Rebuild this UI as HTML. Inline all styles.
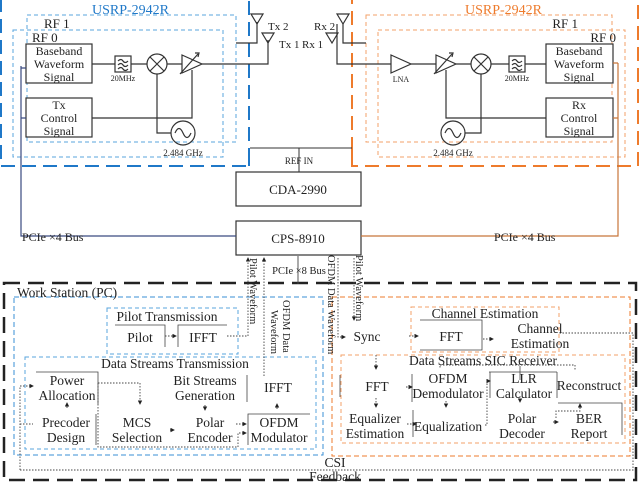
<!DOCTYPE html>
<html><head><meta charset="utf-8"><style>
html,body{margin:0;padding:0;background:#fff}
svg{display:block}
text{font-family:"Liberation Serif",serif;fill:#222}
</style></head><body>
<svg width="640" height="484" viewBox="0 0 640 484" xmlns="http://www.w3.org/2000/svg">
<defs>
<marker id="a" markerWidth="5" markerHeight="5" refX="4" refY="2.5" orient="auto"><path d="M0,0 L5,2.5 L0,5z" fill="#222"/></marker>
</defs>
<g fill="none">
<rect x="1" y="-3" width="248" height="169" stroke="#1f78c8" stroke-width="2" stroke-dasharray="14,7"/>
<rect x="352" y="-3" width="286" height="169" stroke="#ee7b2c" stroke-width="2" stroke-dasharray="14,7"/>
<rect x="27" y="15" width="209" height="127" stroke="#5aa5de" stroke-dasharray="4,3"/>
<rect x="13" y="30" width="210" height="127" stroke="#5aa5de" stroke-dasharray="4,3"/>
<rect x="366" y="15" width="246" height="127" stroke="#f3a26a" stroke-dasharray="4,3"/>
<rect x="378" y="30" width="247" height="127" stroke="#f3a26a" stroke-dasharray="4,3"/>
</g>
<g stroke="#333" fill="#fff" stroke-width="1.2">
<rect x="26" y="44" width="66" height="39"/>
<rect x="26" y="98" width="66" height="39"/>
<rect x="546" y="44" width="67" height="39"/>
<rect x="546" y="98" width="67" height="39"/>
</g>
<g stroke="#333" fill="none" stroke-width="1.2">
<path d="M92,64 H115 M131,64 H147 M167,64 H182 M202,64 H268 V40"/>
<rect x="115" y="56" width="16" height="16"/>
<path d="M118,61 q3,-3 5,0 t5,0 M118,65 q3,-3 5,0 t5,0 M118,69 q3,-3 5,0 t5,0"/>
<circle cx="157" cy="64" r="10"/><path d="M150,57 L164,71 M164,57 L150,71"/>
<path d="M182,55 L202,64 L182,73z"/><path d="M180,74 L198,54" /><path d="M195,53 l4,0 l-1,4"/>
<path d="M92,118 H192 V70"/>
<path d="M157,74 V133 H171"/>
<circle cx="183" cy="133" r="12"/><path d="M175,133 q4,-9 8,0 t8,0"/>
<path d="M236,43 H257 V22"/>
<path d="M251,14 L263,14 L257,24z"/><path d="M262,33 L274,33 L268,43z"/>
<path d="M337,24 V64 H391 M411,64 H436 M456,64 H471 M491,64 H509 M525,64 H546"/>
<path d="M343,24 V43 H366"/>
<path d="M326,33 L338,33 L332,43z"/><path d="M337,14 L349,14 L343,24z"/>
<path d="M391,55 L411,64 L391,73z"/>
<path d="M436,55 L456,64 L436,73z"/><path d="M434,74 L452,54"/><path d="M449,53 l4,0 l-1,4"/>
<circle cx="481" cy="64" r="10"/><path d="M474,57 L488,71 M488,57 L474,71"/>
<rect x="509" y="56" width="16" height="16"/>
<path d="M512,61 q3,-3 5,0 t5,0 M512,65 q3,-3 5,0 t5,0 M512,69 q3,-3 5,0 t5,0"/>
<path d="M546,118 H446 V70"/>
<path d="M481,74 V133 H465"/>
<circle cx="453" cy="133" r="12"/><path d="M445,133 q4,-9 8,0 t8,0"/>
<path d="M250,148 H352 M299,148 V172" stroke-width="1"/>
<rect x="236" y="172" width="125" height="34" fill="#fff"/>
<rect x="236" y="221" width="125" height="34" fill="#fff"/>
</g>
<path d="M613,63 H618 M613,118 H618 M618,63 V236 H361" stroke="#c8763a" fill="none" stroke-width="1.2"/>
<path d="M21,68 H26 M21,118 H26 M21,66 V236 H236" stroke="#3a4a80" fill="none" stroke-width="1.2"/>
<path d="M249,166 V150" stroke="#1f78c8" stroke-width="2"/>
<path d="M352,166 V150" stroke="#ee7b2c" stroke-width="2"/>
<g font-size="12">
<text x="92" y="14" style="fill:#1f78c8" font-size="14">USRP-2942R</text>
<text x="465" y="14" style="fill:#ee7b2c" font-size="14">USRP-2942R</text>
<text x="44" y="28" font-size="13">RF 1</text>
<text x="32" y="42" font-size="13">RF 0</text>
<text x="578" y="28" font-size="13" text-anchor="end">RF 1</text>
<text x="616" y="42" font-size="13" text-anchor="end">RF 0</text>
<g text-anchor="middle" font-size="12">
<text x="59" y="55">Baseband</text><text x="59" y="68">Waveform</text><text x="59" y="81">Signal</text>
<text x="59" y="109">Tx</text><text x="59" y="122">Control</text><text x="59" y="135">Signal</text>
<text x="579" y="55">Baseband</text><text x="579" y="68">Waveform</text><text x="579" y="81">Signal</text>
<text x="579" y="109">Rx</text><text x="579" y="122">Control</text><text x="579" y="135">Signal</text>
<text x="123" y="81" font-size="8">20MHz</text><text x="517" y="81" font-size="8">20MHz</text>
<text x="401" y="82" font-size="8">LNA</text>
<text x="183" y="156" font-size="9">2.484 GHz</text><text x="453" y="156" font-size="9">2.484 GHz</text>
<text x="299" y="164" font-size="9">REF IN</text>
<text x="298" y="194" font-size="13">CDA-2990</text>
<text x="298" y="243" font-size="13">CPS-8910</text>
</g>
<text x="268" y="30" font-size="11">Tx 2</text><text x="279" y="48" font-size="11">Tx 1</text>
<text x="302" y="48" font-size="11">Rx 1</text><text x="314" y="30" font-size="11">Rx 2</text>
<text x="22" y="241" font-size="12">PCIe ×4 Bus</text>
<text x="494" y="241" font-size="12">PCIe ×4 Bus</text>
</g>
<rect x="4" y="283" width="632" height="197" fill="none" stroke="#222" stroke-width="2.5" stroke-dasharray="16,8"/>
<rect x="14" y="297" width="309" height="158" fill="none" stroke="#3a8fd6" stroke-dasharray="5,3"/>
<rect x="107" y="308" width="131" height="46" fill="none" stroke="#5aa5de" stroke-dasharray="4,3"/>
<rect x="25" y="357" width="291" height="92" fill="none" stroke="#5aa5de" stroke-dasharray="4,3"/>
<rect x="332" y="297" width="298" height="159" fill="none" stroke="#ee7b2c" stroke-dasharray="5,3"/>
<rect x="411" y="307" width="148" height="45" fill="none" stroke="#f3a26a" stroke-dasharray="4,3"/>
<rect x="341" y="355" width="284" height="88" fill="none" stroke="#f3a26a" stroke-dasharray="4,3"/>
<g fill="none" stroke="#444" stroke-width="0.8">
<path d="M115,325 H165 V347 M178,347 V325 H227"/>
<path d="M36,372 H98 V404 M96,414 V445"/>
<path d="M247,375 V402 M248,445 V414 H310"/>
<path d="M420,320 H482 V350 H420 M489,372 H557 M340,375 V397 M412,374 V402 M413,410 V437"/>
<path d="M490,372 V398 M520,366 V380 M557,372 V398 M558,403 H622 V435"/>
</g>
<g fill="none" stroke="#444" stroke-width="0.9" stroke-dasharray="1.5,1.5">
<path d="M165,336 H176" marker-end="url(#a)"/>
<path d="M227,336 H248 V258" marker-end="url(#a)"/>
<path d="M264,376 V258" marker-end="url(#a)"/>
<path d="M298,256 V284" stroke-dasharray="none"/>
<path d="M338,258 V337 H345" marker-end="url(#a)"/>
<path d="M354,258 V320" marker-end="url(#a)"/>
<path d="M98,383 H140 V404" marker-end="url(#a)"/>
<path d="M98,383 V447 H238 V433 H246" marker-end="url(#a)"/>
<path d="M67,408 V403" marker-end="url(#a)"/>
<path d="M20,470 V386 H33" marker-end="url(#a)"/>
<path d="M20,424 H33"/>
<path d="M170,430 H174" marker-end="url(#a)"/>
<path d="M205,405 V410" marker-end="url(#a)"/>
<path d="M236,424 H246" marker-end="url(#a)"/>
<path d="M277,409 V404" marker-end="url(#a)"/>
<path d="M20,470 H633 V333 H559"/>
<path d="M409,336 H418" marker-end="url(#a)"/>
<path d="M483,339 H493" marker-end="url(#a)"/>
<path d="M376,355 V369" marker-end="url(#a)"/>
<path d="M376,398 V407" marker-end="url(#a)"/>
<path d="M406,387 H412" marker-end="url(#a)"/>
<path d="M407,424 H416" marker-end="url(#a)"/>
<path d="M446,401 V407" marker-end="url(#a)"/>
<path d="M485,425 H487 V381 H490" marker-end="url(#a)"/>
<path d="M520,396 V402" marker-end="url(#a)"/>
<path d="M553,422 H558" marker-end="url(#a)"/>
<path d="M556,418 V411 H580 V404" marker-end="url(#a)"/>
<path d="M440,366 V368 M440,365 H575 V370"/>
</g>
<g font-size="13.5" text-anchor="middle">
<text x="17" y="297" text-anchor="start">Work Station (PC)</text>
<text x="167" y="321">Pilot Transmission</text>
<text x="140" y="342">Pilot</text><text x="203" y="342">IFFT</text>
<text x="175" y="368">Data Streams Transmission</text>
<text x="67" y="385">Power</text><text x="67" y="400">Allocation</text>
<text x="66" y="427">Precoder</text><text x="66" y="442">Design</text>
<text x="137" y="427">MCS</text><text x="137" y="442">Selection</text>
<text x="205" y="385">Bit Streams</text><text x="205" y="400">Generation</text>
<text x="210" y="427">Polar</text><text x="210" y="442">Encoder</text>
<text x="278" y="392">IFFT</text>
<text x="279" y="427">OFDM</text><text x="279" y="442">Modulator</text>
<text x="485" y="318">Channel Estimation</text>
<text x="367" y="341">Sync</text>
<text x="451" y="341">FFT</text>
<text x="540" y="333">Channel</text><text x="540" y="348">Estimation</text>
<text x="483" y="365">Data Streams SIC Receiver</text>
<text x="377" y="391">FFT</text>
<text x="448" y="383">OFDM</text><text x="448" y="398">Demodulator</text>
<text x="524" y="383">LLR</text><text x="524" y="398">Calculator</text>
<text x="589" y="390">Reconstruct</text>
<text x="375" y="423">Equalizer</text><text x="375" y="438">Estimation</text>
<text x="448" y="431">Equalization</text>
<text x="522" y="423">Polar</text><text x="522" y="438">Decoder</text>
<text x="589" y="423">BER</text><text x="589" y="438">Report</text>
<text x="335" y="467">CSI</text><text x="335" y="481">Feedback</text>
</g>
<g font-size="10.5">
<text x="299" y="274" text-anchor="middle">PCIe ×8 Bus</text>
<text transform="translate(250,258) rotate(90)">Pilot Waveform</text>
<text transform="translate(283,300) rotate(90)">OFDM Data</text>
<text transform="translate(271,310) rotate(90)">Waveform</text>
<text transform="translate(328,255) rotate(90)">OFDM Data Waveform</text>
<text transform="translate(356,255) rotate(90)">Pilot Waveform</text>
</g>
</svg>
</body></html>
